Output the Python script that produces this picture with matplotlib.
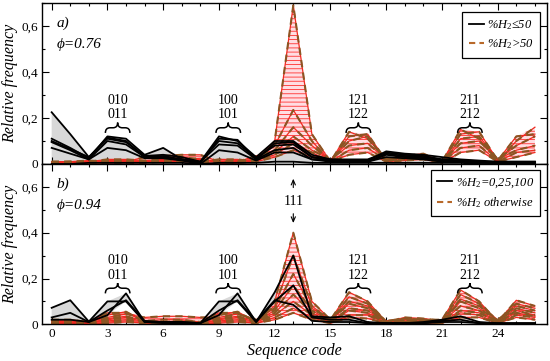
import numpy as np
import matplotlib
matplotlib.use('Agg')
import matplotlib.pyplot as plt
from matplotlib.path import Path
from matplotlib.patches import PathPatch
from matplotlib.lines import Line2D
from matplotlib.ticker import MultipleLocator, FuncFormatter

plt.rcParams['font.family'] = ['Liberation Serif', 'DejaVu Serif']
plt.rcParams['mathtext.fontset'] = 'custom'
plt.rcParams['mathtext.it'] = 'Liberation Serif:italic'
plt.rcParams['mathtext.rm'] = 'Liberation Serif'
plt.rcParams['hatch.linewidth'] = 0.6
plt.rcParams['hatch.color'] = '#ff3030'

codes = list(range(27))

# ---- panel a) phi = 0.76 ----
top_black = [
    [0.225,0.13,0.03,0.115,0.10,0.03,0.035,0.02,0.01,0.12,0.10,0.03,0.10,0.10,0.04,0.02,0.015,0.015,0.055,0.045,0.04,0.03,0.02,0.015,0.01,0.01,0.01],
    [0.11,0.07,0.025,0.12,0.11,0.04,0.07,0.02,0.005,0.11,0.105,0.02,0.09,0.095,0.03,0.02,0.02,0.02,0.05,0.04,0.035,0.02,0.015,0.01,0.01,0.01,0.01],
    [0.10,0.065,0.03,0.11,0.095,0.035,0.04,0.03,0.01,0.10,0.09,0.025,0.08,0.085,0.03,0.015,0.015,0.01,0.045,0.035,0.03,0.02,0.015,0.01,0.005,0.005,0.005],
    [0.095,0.06,0.02,0.10,0.085,0.03,0.03,0.02,0.01,0.085,0.08,0.02,0.06,0.07,0.02,0.015,0.01,0.01,0.04,0.03,0.025,0.015,0.01,0.01,0.005,0.005,0.005],
    [0.07,0.045,0.02,0.07,0.06,0.025,0.025,0.015,0.0,0.06,0.05,0.015,0.05,0.05,0.02,0.01,0.01,0.01,0.03,0.025,0.02,0.01,0.01,0.005,0.005,0.005,0.005],
    [0.0,0.0,0.005,0.005,0.005,0.005,0.005,0.005,0.0,0.005,0.005,0.005,0.01,0.01,0.005,0.005,0.005,0.005,0.005,0.005,0.005,0.005,0.005,0.0,0.0,0.0,0.0],
]
top_red = [
    [0.01,0.01,0.01,0.015,0.015,0.01,0.01,0.01,0.01,0.02,0.02,0.01,0.10,0.69,0.13,0.01,0.14,0.11,0.02,0.04,0.03,0.01,0.15,0.11,0.01,0.10,0.16],
    [0.005,0.005,0.01,0.02,0.02,0.015,0.02,0.03,0.02,0.01,0.015,0.02,0.08,0.235,0.10,0.01,0.12,0.13,0.015,0.035,0.045,0.01,0.13,0.14,0.015,0.12,0.13],
    [0.01,0.01,0.015,0.01,0.01,0.03,0.035,0.04,0.04,0.01,0.01,0.035,0.06,0.16,0.08,0.015,0.10,0.12,0.01,0.03,0.04,0.005,0.11,0.12,0.02,0.08,0.12],
    [0.005,0.01,0.005,0.01,0.01,0.01,0.015,0.02,0.025,0.005,0.01,0.02,0.05,0.12,0.06,0.02,0.08,0.09,0.02,0.03,0.03,0.01,0.09,0.10,0.02,0.06,0.08],
    [0.0,0.005,0.005,0.005,0.01,0.01,0.01,0.015,0.02,0.005,0.005,0.015,0.04,0.09,0.05,0.01,0.06,0.07,0.015,0.02,0.025,0.01,0.07,0.08,0.01,0.05,0.06],
    [0.0,0.0,0.005,0.005,0.005,0.005,0.01,0.01,0.01,0.0,0.005,0.01,0.03,0.06,0.03,0.01,0.04,0.05,0.01,0.015,0.02,0.005,0.05,0.06,0.01,0.03,0.05],
]

# ---- panel b) phi = 0.94 ----
bot_black = [
    [0.072,0.105,0.012,0.10,0.10,0.01,0.01,0.01,0.005,0.10,0.10,0.01,0.14,0.30,0.035,0.03,0.035,0.01,0.005,0.005,0.01,0.02,0.035,0.01,0.005,0.005,0.005],
    [0.03,0.05,0.01,0.04,0.135,0.01,0.005,0.005,0.005,0.04,0.135,0.01,0.10,0.17,0.03,0.02,0.02,0.005,0.005,0.005,0.005,0.015,0.02,0.005,0.005,0.005,0.005],
    [0.02,0.02,0.01,0.06,0.105,0.015,0.01,0.01,0.005,0.06,0.105,0.015,0.105,0.085,0.015,0.01,0.01,0.005,0.005,0.005,0.005,0.01,0.01,0.005,0.0,0.0,0.0],
]
bot_red = [
    [0.01,0.01,0.005,0.04,0.055,0.01,0.01,0.01,0.005,0.04,0.055,0.01,0.10,0.40,0.10,0.02,0.14,0.10,0.01,0.02,0.02,0.02,0.15,0.10,0.01,0.105,0.08],
    [0.015,0.015,0.01,0.05,0.05,0.015,0.02,0.02,0.01,0.05,0.05,0.015,0.08,0.30,0.08,0.015,0.12,0.09,0.01,0.03,0.025,0.015,0.13,0.09,0.015,0.09,0.07],
    [0.02,0.02,0.01,0.03,0.045,0.03,0.035,0.035,0.03,0.03,0.045,0.02,0.07,0.22,0.07,0.02,0.10,0.08,0.015,0.025,0.02,0.015,0.11,0.08,0.02,0.08,0.06],
    [0.01,0.015,0.005,0.025,0.035,0.015,0.01,0.015,0.01,0.025,0.035,0.015,0.06,0.17,0.06,0.015,0.09,0.07,0.01,0.02,0.02,0.01,0.10,0.07,0.015,0.07,0.05],
    [0.005,0.01,0.005,0.02,0.03,0.01,0.01,0.01,0.005,0.02,0.03,0.01,0.05,0.13,0.05,0.01,0.07,0.06,0.01,0.015,0.015,0.01,0.08,0.06,0.01,0.06,0.04],
    [0.005,0.005,0.005,0.015,0.02,0.01,0.005,0.01,0.005,0.015,0.02,0.01,0.04,0.10,0.04,0.01,0.06,0.05,0.005,0.01,0.01,0.01,0.06,0.05,0.01,0.05,0.035],
    [0.0,0.005,0.0,0.01,0.015,0.005,0.005,0.005,0.0,0.01,0.015,0.005,0.03,0.07,0.03,0.005,0.04,0.04,0.005,0.01,0.01,0.005,0.05,0.04,0.005,0.04,0.03],
    [0.0,0.0,0.0,0.005,0.01,0.005,0.0,0.005,0.0,0.005,0.01,0.005,0.02,0.05,0.02,0.005,0.03,0.025,0.005,0.005,0.005,0.005,0.03,0.03,0.005,0.03,0.02],
]

group_labels = [("010", "011"), ("100", "101"), ("121", "122"), ("211", "212")]
group_pos = [3.55, 9.5, 16.5, 22.5]
panel_tags = ["a)", "b)"]
phi_labels = ["\u03d5=0.76", "\u03d5=0.94"]
legend_a = [r"%$H_2$≤50", r"%$H_2$>50"]
legend_b = [r"%$H_2$=0,25,100", r"%$H_2$ otherwise"]

W, H = 550, 361
fig = plt.figure(figsize=(W / 100, H / 100), dpi=100)
L, R = 42 / W, 547 / W
ax1 = fig.add_axes([L, 1 - 164 / H, R - L, (164 - 3) / H])
ax2 = fig.add_axes([L, 1 - 324.3 / H, R - L, (324.3 - 164) / H])

RED = '#f02a20'
BROWN = '#8c5523'


def brace(ax, xc, half, y0, h):
    x0, x1 = xc - half, xc + half
    q = 0.25
    ym = y0 + h / 2
    verts = [(x0, y0), (x0, ym), (x0 + q, ym), (xc - q, ym), (xc, ym), (xc, y0 + h),
             (xc, ym), (xc + q, ym), (x1 - q, ym), (x1, ym), (x1, y0)]
    codes_ = [Path.MOVETO, Path.CURVE3, Path.CURVE3, Path.LINETO, Path.CURVE3, Path.CURVE3,
              Path.CURVE3, Path.CURVE3, Path.LINETO, Path.CURVE3, Path.CURVE3]
    ax.add_patch(PathPatch(Path(verts, codes_), fc='none', ec='black', lw=1.1, zorder=6))


def yfmt(v, pos):
    if abs(v) < 1e-9:
        return "0"
    return ("%.1f" % v).replace('.', ',')


for ax, blk, red, tag, phi in [(ax1, top_black, top_red, panel_tags[0], phi_labels[0]),
                               (ax2, bot_black, bot_red, panel_tags[1], phi_labels[1])]:
    b = np.array(blk)
    r = np.array(red)
    ax.fill_between(codes, b.min(axis=0), b.max(axis=0), facecolor='#d8d8d8', lw=0, zorder=1)
    ax.fill_between(codes, r.min(axis=0), r.max(axis=0), facecolor='#ffdde2',
                    edgecolor='#ff3030', hatch='----', lw=0, zorder=1.5)
    for row in r:
        ax.plot(codes, row, color=RED, lw=0.9, zorder=2)
        ax.plot(codes, row, color=BROWN, lw=1.5, ls=(0, (3.5, 2.5)), zorder=2.5)
    for row in b:
        ax.plot(codes, row, color='black', lw=1.3, zorder=3)

    ax.set_xlim(-0.52, 26.65)
    ax.set_ylim(0, 0.7)
    ax.xaxis.set_major_locator(MultipleLocator(3))
    ax.xaxis.set_minor_locator(MultipleLocator(1))
    ax.yaxis.set_major_locator(MultipleLocator(0.2))
    ax.yaxis.set_minor_locator(MultipleLocator(0.1))
    ax.yaxis.set_major_formatter(FuncFormatter(yfmt))
    ax.tick_params(which='both', direction='in', top=True, right=True, labelsize=9.5, pad=2.5)
    ax.tick_params(which='major', length=5, width=0.8)
    ax.tick_params(which='minor', length=2.5, width=0.8)
    for s in ax.spines.values():
        s.set_linewidth(1.0)
    ax.set_ylabel("Relative frequency", fontsize=11.5, style='italic')
    ax.yaxis.set_label_coords(-0.047, 0.5)

    ax.text(0.28, 0.61, tag, fontsize=11, style='italic', va='center', ha='left')
    ax.text(0.28, 0.52, phi, fontsize=11, style='italic', va='center', ha='left')

    for (l1, l2), xc in zip(group_labels, group_pos):
        ax.text(xc, 0.278, l1, fontsize=10, ha='center', va='center', zorder=6)
        ax.text(xc, 0.214, l2, fontsize=10, ha='center', va='center', zorder=6)
        brace(ax, xc, 0.66, 0.135, 0.045)

ax1.tick_params(labelbottom=False)
ax2.set_xlabel("Sequence code", fontsize=11.5, style='italic', labelpad=2)

# 111 annotation
ax2.text(13, 0.535, "111", fontsize=10, ha='center', va='center')
ax2.annotate('', xy=(13, 0.648), xytext=(13, 0.585),
             arrowprops=dict(arrowstyle='->,head_length=0.35,head_width=0.15', lw=0.8, color='black'))
ax2.annotate('', xy=(13, 0.43), xytext=(13, 0.495),
             arrowprops=dict(arrowstyle='->,head_length=0.35,head_width=0.15', lw=0.8, color='black'))

handles = [Line2D([], [], color='black', lw=1.3),
           Line2D([], [], color='#b8692a', lw=1.5, ls=(0, (3, 2)))]
for ax, labs, anchor in [(ax1, legend_a, (0.986, 0.944)), (ax2, legend_b, (0.986, 0.9625))]:
    leg = ax.legend(handles, labs, loc='upper right', bbox_to_anchor=anchor,
                    prop={'size': 9, 'style': 'italic'}, fancybox=False, framealpha=1,
                    edgecolor='black', handlelength=1.2, handletextpad=0.25,
                    borderpad=0.5, labelspacing=0.45, borderaxespad=0)
    leg.get_frame().set_linewidth(0.9)
    leg.set_zorder(10)

fig.savefig('out.png', dpi=100)
